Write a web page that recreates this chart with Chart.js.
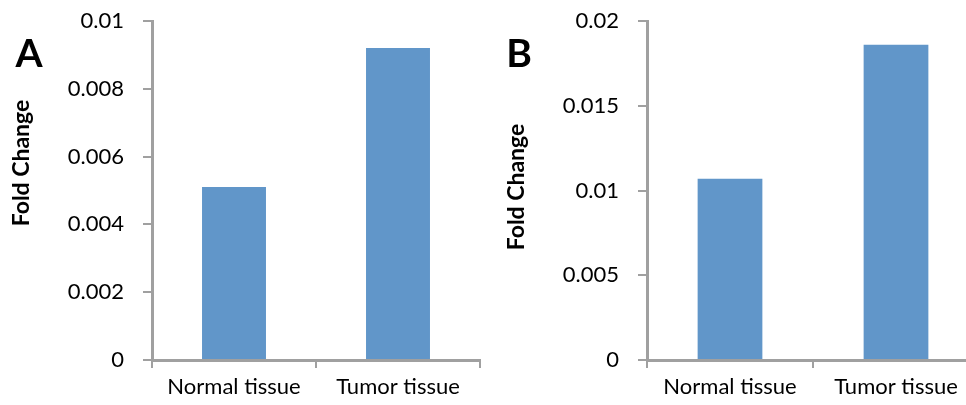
<!DOCTYPE html>
<html>
<head>
<meta charset="utf-8">
<script src="https://cdn.jsdelivr.net/npm/chart.js@4"></script>
<style>
  html, body { margin: 0; padding: 0; background: #fff; overflow: hidden; width: 966px; height: 405px; }
  .wrap { position: absolute; top: 0; height: 405px; }
  #wa { left: 0; width: 486px; }
  #wb { left: 490px; width: 500px; }
</style>
</head>
<body>
<div class="wrap" id="wa"><canvas id="ca"></canvas></div>
<div class="wrap" id="wb"><canvas id="cb"></canvas></div>
<script>
// ---- data ----
const categories = ['Normal tissue', 'Tumor tissue'];
const valuesA = [0.0051, 0.0092];
const valuesB = [0.0107, 0.0186];
const yTicksA = ['0', '0.002', '0.004', '0.006', '0.008', '0.01'];
const yTicksB = ['0', '0.005', '0.01', '0.015', '0.02'];
const panelLabels = ['A', 'B'];
const yTitle = 'Fold Change';

const BAR = '#6196c9';
const AXIS = '#a0a0a0';
const FONT = 'Lato, sans-serif';

function panelPlugin(letter, lx, ly, tx, ty) {
  return {
    id: 'panel' + letter,
    afterDraw(chart) {
      const ctx = chart.ctx;
      ctx.save();
      ctx.fillStyle = '#000';
      ctx.textAlign = 'center';
      ctx.textBaseline = 'middle';
      ctx.font = 'bold 39px ' + FONT;
      ctx.fillText(letter, lx, ly);
      ctx.translate(tx, ty);
      ctx.rotate(-Math.PI / 2);
      ctx.font = 'bold 23px ' + FONT;
      ctx.fillText(yTitle, 0, 0);
      ctx.restore();
    }
  };
}

function makeChart(id, values, ticks, maxV, step, yWidth, padRight, plugin) {
  return new Chart(document.getElementById(id), {
    type: 'bar',
    data: {
      labels: categories,
      datasets: [{
        data: values,
        backgroundColor: BAR,
        borderWidth: 0,
        barPercentage: 0.39,
        categoryPercentage: 1.0
      }]
    },
    options: {
      responsive: false,
      animation: false,
      maintainAspectRatio: false,
      devicePixelRatio: 1,
      layout: { padding: { top: 21, left: 0, right: padRight, bottom: 0 } },
      plugins: { legend: { display: false }, tooltip: { enabled: false } },
      scales: {
        x: {
          grid: { display: true, offset: true, drawOnChartArea: false, drawTicks: true, tickLength: 8, color: AXIS, lineWidth: 2 },
          border: { display: true, color: AXIS, width: 3 },
          ticks: { color: '#000', font: { family: FONT, size: 22 }, padding: 6, maxRotation: 0 },
          afterFit(s) { s.height = 45; s.paddingLeft = 0; s.paddingRight = 0; }
        },
        y: {
          min: 0, max: maxV,
          grid: { display: true, drawOnChartArea: false, drawTicks: true, tickLength: 9, color: AXIS, lineWidth: 2 },
          border: { display: true, color: AXIS, width: 3 },
          ticks: {
            stepSize: step, color: '#000', font: { family: FONT, size: 22 }, padding: 19,
            callback: (v, i) => ticks[i]
          },
          afterFit(s) { s.width = yWidth; s.paddingTop = 0; s.paddingBottom = 0; }
        }
      }
    },
    plugins: [plugin]
  });
}

function setSize(id, w, h) {
  const c = document.getElementById(id);
  c.width = w; c.height = h;
  c.style.width = w + 'px'; c.style.height = h + 'px';
}
setSize('ca', 486, 405);
setSize('cb', 500, 405);

makeChart('ca', valuesA, yTicksA, 0.01, 0.002, 152, 6, panelPlugin(panelLabels[0], 29, 54, 22, 163));
makeChart('cb', valuesB, yTicksB, 0.02, 0.005, 157, 11, panelPlugin(panelLabels[1], 29, 54, 27, 187));
</script>
</body>
</html>
